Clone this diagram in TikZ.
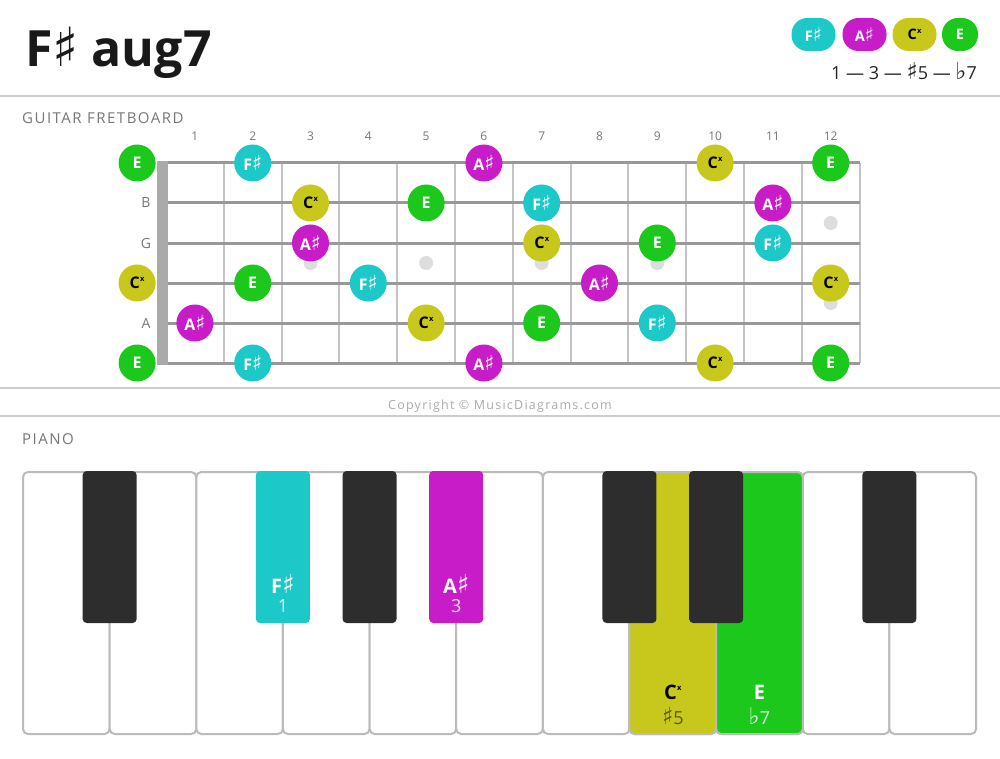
\documentclass[tikz,border=0pt]{standalone}
\usepackage{fontspec}
\usepackage{graphicx}
\setmainfont{Open Sans}
\newfontfamily\symfont{DejaVu Sans}
\usetikzlibrary{positioning}
\definecolor{fsharp}{HTML}{1CC8C8}
\definecolor{asharp}{HTML}{C81CC8}
\definecolor{cxsharp}{HTML}{C8C81C}
\definecolor{enote}{HTML}{1CC81C}
\definecolor{rulegray}{HTML}{CCCCCC}
\definecolor{labelgray}{HTML}{777777}
\definecolor{stringgray}{HTML}{999999}
\definecolor{fretgray}{HTML}{C4C4C4}
\definecolor{nutgray}{HTML}{AAAAAA}
\definecolor{dotgray}{HTML}{DDDDDD}
\definecolor{blackkey}{HTML}{2D2D2D}
\definecolor{keyedge}{HTML}{BBBBBB}
\newcommand{\shp}{{\symfont\scalebox{1.3}{♯}}}
\newcommand{\flt}{{\symfont\scalebox{1.3}{♭}}}
\newcommand{\dsh}{\kern0.3pt\raisebox{0.42em}{\fontsize{7.5}{7.5}\selectfont\bfseries x}}

\begin{document}
\begin{tikzpicture}[x=1pt,y=-1pt,
  note/.style={circle,minimum size=37pt,inner sep=0pt,font=\fontsize{16}{16}\selectfont\bfseries},
  fs/.style={note,fill=fsharp,text=white},
  as/.style={note,fill=asharp,text=white},
  cx/.style={note,fill=cxsharp,text=black},
  en/.style={note,fill=enote,text=white},
  pill/.style={rectangle,rounded corners=16pt,minimum width=44pt,minimum height=33pt,inner sep=0pt,font=\fontsize{14.5}{14.5}\selectfont\bfseries},
  small/.style={text=labelgray,inner sep=0pt,font=\fontsize{12}{12}\selectfont},
  head/.style={text=labelgray,anchor=west,inner sep=0pt,font=\fontsize{15}{15}\selectfont\addfontfeatures{LetterSpace=10}},
  whitekey/.style={draw=keyedge,line width=2pt,rounded corners=5pt},
  keyname/.style={inner sep=0pt,font=\fontsize{20}{20}\selectfont\bfseries},
  keydeg/.style={inner sep=0pt,font=\fontsize{18}{18}\selectfont}]
\useasboundingbox (0,0) rectangle (1000,759);
\fill[white] (0,0) rectangle (1000,759);

\node[anchor=base west,inner sep=0pt,text=black!90,font=\fontsize{50}{50}\selectfont\bfseries] (title) at (25,67) {F{\mdseries\symfont\fontsize{54}{54}\selectfont ♯} aug7};
\node[pill,fill=fsharp,text=white] (lf) at (813.5,34.5) {F\shp};
\node[pill,fill=asharp,text=white] (la) at (864.5,34.5) {A\shp};
\node[pill,fill=cxsharp,text=black] (lc) at (914.5,34.5) {C\dsh};
\node[pill,fill=enote,text=white,minimum width=36pt] (le) at (960,34.5) {E};
\node[anchor=east,inner sep=0pt,text=black!85,font=\fontsize{18}{18}\selectfont] (formula) at (977,71) {1 — 3 — \shp5 — \flt7};

\draw[rulegray,line width=2.5pt] (0,96) -- (1000,96);
\draw[rulegray,line width=2pt] (0,388) -- (1000,388);
\draw[rulegray,line width=2pt] (0,416) -- (1000,416);

\node[head] (ghead) at (22,118) {GUITAR FRETBOARD};
\node[text=black!33,inner sep=0pt,font=\fontsize{12.5}{12.5}\selectfont\addfontfeatures{LetterSpace=10}] (copy) at (500,406) {Copyright © MusicDiagrams.com};
\node[head] (phead) at (22,439) {PIANO};

\foreach \k in {1,...,12}
  \node[small] (fn\k) at ({137.1+57.8*\k},136) {\k};
\foreach \k in {1,...,12}
  \draw[fretgray,line width=2pt] ({166+57.8*\k},163) -- ({166+57.8*\k},363);
\foreach \k/\y in {3/263,5/263,7/263,9/263,12/223,12/303}
  \fill[dotgray] ({137.1+57.8*\k},\y) circle (7);
\foreach \s in {1,...,6}
  \draw[stringgray,line width=3pt] (157,{123+40*\s}) -- (860,{123+40*\s});
\fill[nutgray] (157,161.5) rectangle (168,364.5);

\node[small,font=\fontsize{14}{14}\selectfont] (sB) at (146,203) {B};
\node[small,font=\fontsize{14}{14}\selectfont] (sG) at (146,243) {G};
\node[small,font=\fontsize{14}{14}\selectfont] (sA) at (146,323) {A};

\foreach \s/\k/\c/\lbl in {1/0/en/E,1/2/fs/F\shp,1/6/as/A\shp,1/10/cx/C\dsh,1/12/en/E,
    2/3/cx/C\dsh,2/5/en/E,2/7/fs/F\shp,2/11/as/A\shp,
    3/3/as/A\shp,3/7/cx/C\dsh,3/9/en/E,3/11/fs/F\shp,
    4/0/cx/C\dsh,4/2/en/E,4/4/fs/F\shp,4/8/as/A\shp,4/12/cx/C\dsh,
    5/1/as/A\shp,5/5/cx/C\dsh,5/7/en/E,5/9/fs/F\shp,
    6/0/en/E,6/2/fs/F\shp,6/6/as/A\shp,6/10/cx/C\dsh,6/12/en/E}
  \node[\c] (n\s-\k) at ({137.1+57.8*\k},{123+40*\s}) {\lbl};

\foreach \i in {0,...,10}
  \draw[whitekey,fill=white] ({23+86.64*\i},472) rectangle ({23+86.64*(\i+1)},734);
\draw[whitekey,fill=cxsharp] ({23+86.64*7},472) rectangle ({23+86.64*8},734);
\draw[whitekey,fill=enote] ({23+86.64*8},472) rectangle ({23+86.64*9},734);
\foreach \k/\c in {1/blackkey,3/fsharp,4/blackkey,5/asharp,7/blackkey,8/blackkey,10/blackkey}
  \fill[\c,rounded corners=4pt] ({23+86.64*\k-27},471) rectangle ({23+86.64*\k+27},623);

\node[keyname,text=white] (kfs) at (282.9,584) {F\shp};
\node[keydeg,text=white!85!fsharp] (kfs1) at (282.9,606) {1};
\node[keyname,text=white] (kas) at (456.2,584) {A\shp};
\node[keydeg,text=white!85!asharp] (kas3) at (456.2,606) {3};
\node[keyname,text=black] (kcx) at (672.8,692) {C\dsh};
\node[keydeg,text=black!55!cxsharp] (kcx5) at (672.8,716) {\shp5};
\node[keyname,text=white] (ken) at (759.4,692) {E};
\node[keydeg,text=white!85!enote] (ken7) at (759.4,716) {\flt7};
\end{tikzpicture}
\end{document}
